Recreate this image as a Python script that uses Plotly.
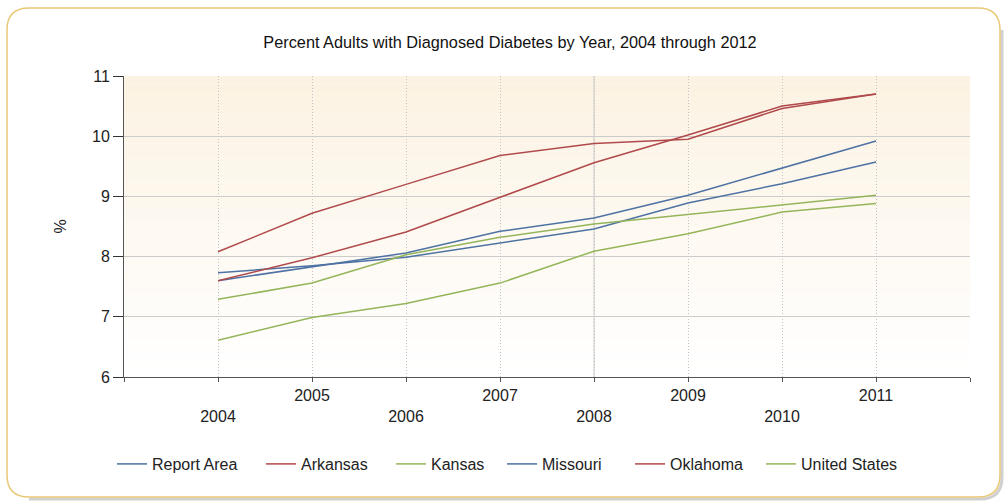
import plotly.graph_objects as go

years = [2004, 2005, 2006, 2007, 2008, 2009, 2010, 2011]
report_area = [7.73, 7.85, 7.99, 8.22, 8.46, 8.89, 9.21, 9.57]
arkansas = [8.08, 8.72, 9.20, 9.68, 9.88, 9.95, 10.46, 10.70]
kansas = [6.61, 6.99, 7.22, 7.56, 8.09, 8.38, 8.74, 8.88]
missouri = [7.60, 7.83, 8.06, 8.42, 8.64, 9.02, 9.47, 9.92]
oklahoma = [7.60, 7.98, 8.41, 8.98, 9.56, 10.02, 10.50, 10.70]
united_states = [7.29, 7.56, 8.03, 8.32, 8.54, 8.70, 8.87, 9.02]

series = [
    ("Report Area", report_area, "#4d72a3"),
    ("Arkansas", arkansas, "#b04a4c"),
    ("Kansas", kansas, "#94b55a"),
    ("Missouri", missouri, "#4d72a3"),
    ("Oklahoma", oklahoma, "#b04a4c"),
    ("United States", united_states, "#94b55a"),
]

title_text = "Percent Adults with Diagnosed Diabetes by Year, 2004 through 2012"
y_title = "%"

W, H = 1006, 504
L, R, T, B = 124, 36, 76, 127
PW, PH = W - L - R, H - T - B

# legend entry start positions (pixels)
legend_x_px = [112, 261, 391, 502, 630, 761]


def px(xp):
    return (xp - L) / PW


def py(yp):
    return (H - B - yp) / PH


FAM = "Liberation Sans, Arial, sans-serif"
font = dict(family=FAM, size=16, color="#222222")

fig = go.Figure()
legends = {}
for i, (name, vals, col) in enumerate(series):
    lname = "legend" if i == 0 else f"legend{i + 1}"
    fig.add_trace(go.Scatter(x=years, y=vals, name=name, mode="lines",
                             line=dict(color=col, width=1.5), legend=lname))
    legends[lname] = dict(orientation="h", x=legend_x_px[i] / W, xref="container",
                          xanchor="left", y=1 - 464 / H, yref="container",
                          yanchor="middle", font=font, itemwidth=30,
                          bgcolor="rgba(0,0,0,0)", borderwidth=0)

shapes = []
# gradient plot background
n = 40
top = (252, 242, 226)
bot = (255, 255, 255)
for i in range(n):
    f = i / (n - 1)
    c = tuple(round(top[k] + (bot[k] - top[k]) * f) for k in range(3))
    shapes.append(dict(type="rect", xref="paper", yref="paper", x0=0, x1=1,
                       y0=1 - (i + 1) / n, y1=1 - i / n, line=dict(width=0),
                       fillcolor="rgb(%d,%d,%d)" % c, layer="below"))

# rounded outer border
x0, x1, y0, y1, r = 7, 1000, 8, 497, 22
path = (f"M {px(x0 + r)},{py(y0)} L {px(x1 - r)},{py(y0)} "
        f"Q {px(x1)},{py(y0)} {px(x1)},{py(y0 + r)} "
        f"L {px(x1)},{py(y1 - r)} Q {px(x1)},{py(y1)} {px(x1 - r)},{py(y1)} "
        f"L {px(x0 + r)},{py(y1)} Q {px(x0)},{py(y1)} {px(x0)},{py(y1 - r)} "
        f"L {px(x0)},{py(y0 + r)} Q {px(x0)},{py(y0)} {px(x0 + r)},{py(y0)} Z")
spath = (f"M {px(x1 + 2)},{py(y0 + r)} L {px(x1 + 2)},{py(y1 - r + 2)} "
         f"Q {px(x1 + 2)},{py(y1 + 2)} {px(x1 - r + 2)},{py(y1 + 2)} L {px(x0 + r)},{py(y1 + 2)}")
shapes.append(dict(type="path", xref="paper", yref="paper", path=spath,
                   line=dict(color="rgba(150,150,150,0.45)", width=3), layer="below"))
shapes.append(dict(type="path", xref="paper", yref="paper", path=path,
                   line=dict(color="#e9c878", width=1.5), layer="below"))
# solid grid line at 2008
shapes.append(dict(type="line", xref="x", yref="paper", x0=2008, x1=2008, y0=0, y1=1,
                   line=dict(color="#c8c8c8", width=1), layer="below"))

tv = list(range(2003, 2013))
odd_text = [str(y) if (y % 2 == 1 and 2004 <= y <= 2011) else "" for y in tv]
even_text = [str(y) if (y % 2 == 0 and 2004 <= y <= 2011) else "" for y in tv]

layout = dict(
    width=W, height=H,
    margin=dict(l=L, r=R, t=T, b=B, autoexpand=False),
    paper_bgcolor="white",
    plot_bgcolor="rgba(0,0,0,0)",
    font=font,
    title=dict(text=title_text, x=510 / W, xref="container", xanchor="center",
               y=1 - 42 / H, yanchor="middle", yref="container",
               font=dict(family=FAM, size=16.3, color="#111111")),
    shapes=shapes,
    showlegend=True,
    xaxis=dict(range=[2003, 2012], tickvals=tv, ticktext=odd_text,
               showgrid=True, gridcolor="#c4c4c4", griddash="1px,2px", gridwidth=1,
               zeroline=False, showline=True, linecolor="#555555", linewidth=1,
               ticks="outside", ticklen=4, tickcolor="#555555",
               ticklabelstandoff=0, tickfont=font),
    xaxis2=dict(range=[2003, 2012], overlaying="x", side="bottom", anchor="y",
                tickvals=tv, ticktext=even_text, showgrid=False, zeroline=False,
                showline=False, ticks="", ticklabelstandoff=28, tickfont=font),
    yaxis=dict(range=[6, 11], dtick=1, tick0=6, showgrid=True, gridcolor="#cccccc",
               gridwidth=1, zeroline=False, showline=True, linecolor="#555555",
               linewidth=1, ticks="outside", ticklen=10, tickcolor="#333333",
               tickfont=font,
               title=dict(text=y_title, standoff=21,
                          font=dict(family=FAM, size=16, color="#222222"))),
)
layout.update(legends)
fig.update_layout(**layout)
fig.add_trace(go.Scatter(x=[None], y=[None], xaxis="x2", yaxis="y", showlegend=False,
                         hoverinfo="skip"))

fig.write_html("out.html", config={"displayModeBar": False},
               post_script="document.body.style.margin='0';document.body.style.overflow='hidden';")
